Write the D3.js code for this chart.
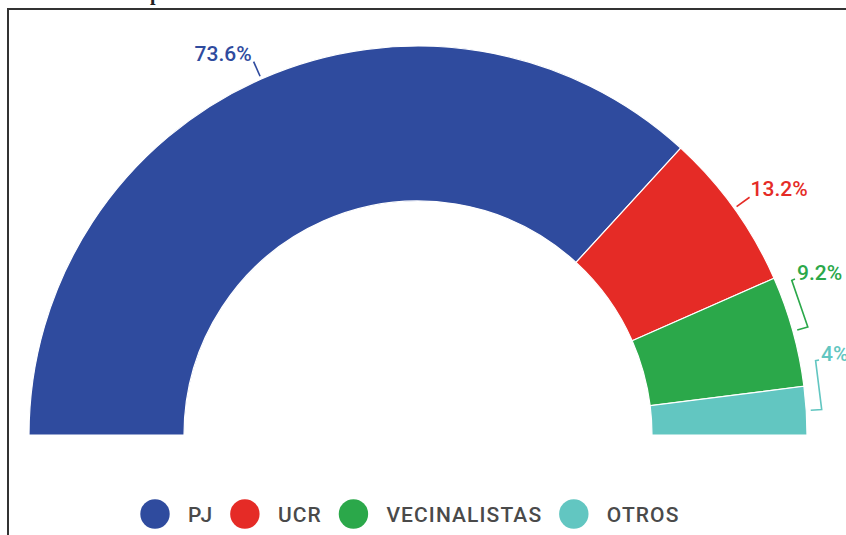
<!DOCTYPE html>
<html lang="es">
<head>
    <meta charset="UTF-8">
    <script src="https://d3js.org/d3.v7.min.js"></script>
    <style>
        body { margin: 0; background: #fff; }
        text { font-family: Roboto, "Noto Sans", sans-serif; }
    </style>
</head>
<body>
    <svg id="chart" width="846" height="535"></svg>

    <script>
        // data
        const parties = ["PJ", "UCR", "VECINALISTAS", "OTROS"];
        const shares = [73.6, 13.2, 9.2, 4];
        const colors = ["#2f4b9e", "#e52b26", "#2ba84a", "#62c6c1"];
        const labelKind = ["radial", "radial", "bracket", "bracket"];

        const cx = 418, cy = 435;
        const outerR = 389, innerR = 234;

        const svg = d3.select("#chart");

        // clipped title remnant and frame
        svg.append("text")
            .attr("x", 150).attr("y", 0)
            .style("font-family", "'Liberation Serif', serif")
            .style("font-weight", "bold")
            .style("font-size", "20px")
            .attr("fill", "#222")
            .text("p");

        svg.append("rect")
            .attr("x", 8).attr("y", 9)
            .attr("width", 900).attr("height", 600)
            .attr("fill", "none")
            .attr("stroke", "#333")
            .attr("stroke-width", 2);

        const pie = d3.pie()
            .sort(null)
            .startAngle(-Math.PI / 2)
            .endAngle(Math.PI / 2)
            .value(d => d.v);

        const arc = d3.arc().innerRadius(innerR).outerRadius(outerR);

        const data = parties.map((p, i) => ({ name: p, v: shares[i], color: colors[i], kind: labelKind[i] }));
        const arcs = pie(data);

        const g = svg.append("g").attr("transform", `translate(${cx},${cy})`);

        g.selectAll("path.slice")
            .data(arcs)
            .enter().append("path")
            .attr("class", "slice")
            .attr("d", arc)
            .attr("fill", d => d.data.color)
            .attr("stroke", "#fff")
            .attr("stroke-width", 1.2);

        // polar helper (d3 angle: 0 = up, clockwise)
        const pt = (a, r) => [r * Math.sin(a), -r * Math.cos(a)];

        arcs.forEach(d => {
            const mid = (d.startAngle + d.endAngle) / 2;
            const col = d.data.color;
            let line, tx, ty, anchor;
            if (d.data.kind === "radial") {
                const p0 = pt(mid, outerR + 3), p1 = pt(mid, outerR + 19);
                line = [p0, p1];
                anchor = p1[0] < 0 ? "end" : "start";
                tx = p1[0] + (p1[0] < 0 ? -2 : 1);
                ty = p1[1] - 1;
            } else {
                const top = mid - 7 * Math.PI / 180;
                const p0 = pt(mid, outerR + 4.5), p1 = pt(mid, outerR + 15.5);
                const p2 = pt(top, outerR + 15.5), p3 = pt(top, outerR + 19);
                line = [p0, p1, p2, p3];
                anchor = "start";
                tx = p3[0] + 2;
                ty = p3[1] + 1;
            }
            g.append("path")
                .attr("d", d3.line()(line))
                .attr("fill", "none")
                .attr("stroke", col)
                .attr("stroke-width", 1.6);
            g.append("text")
                .attr("x", tx).attr("y", ty)
                .attr("text-anchor", anchor)
                .attr("fill", col)
                .style("font-size", "21px")
                .style("font-weight", 500)
                .text(d.data.v + "%");
        });

        // legend
        const legend = svg.append("g").attr("transform", "translate(0,514)");
        const dotR = 14.7, spacing = 1.1;
        let x = 155;
        data.forEach(d => {
            const item = legend.append("g");
            item.append("circle")
                .attr("cx", x).attr("cy", 0)
                .attr("r", dotR)
                .attr("fill", d.color);
            const t = item.append("text")
                .attr("x", x + 33).attr("y", 7.5)
                .attr("fill", "#4a4a4a")
                .style("font-size", "21px")
                .style("font-weight", 500)
                .style("letter-spacing", spacing + "px")
                .text(d.name);
            const w = t.node().getComputedTextLength() - spacing;
            x += 33 + w + 18 + dotR;
        });
    </script>
</body>
</html>
